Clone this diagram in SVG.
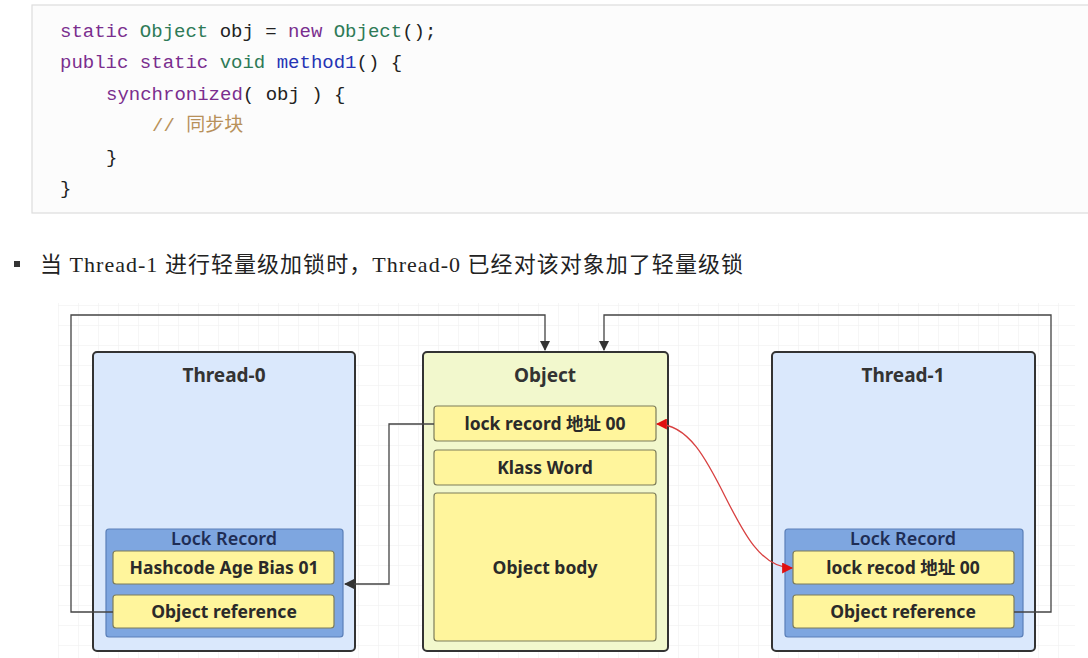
<svg xmlns="http://www.w3.org/2000/svg" width="1088" height="658" viewBox="0 0 1088 658">
<defs>
  <pattern id="grid" width="20" height="20" patternUnits="userSpaceOnUse" x="58" y="305">
    <path d="M20 0 L0 0 0 20" fill="none" stroke="#eeeeee" stroke-width="1"/>
  </pattern>
  <marker id="arrBlack" viewBox="0 0 10 10" refX="9" refY="5" markerWidth="10" markerHeight="10" markerUnits="userSpaceOnUse" orient="auto">
    <path d="M0 0 L10 5 L0 10 Z" fill="#333"/>
  </marker>
  <marker id="arrRedEnd" viewBox="0 0 10 10" refX="9" refY="5" markerWidth="11" markerHeight="11" markerUnits="userSpaceOnUse" orient="auto">
    <path d="M0 0 L10 5 L0 10 Z" fill="#e01010"/>
  </marker>
  <marker id="arrRedStart" viewBox="0 0 10 10" refX="1" refY="5" markerWidth="11" markerHeight="11" markerUnits="userSpaceOnUse" orient="auto">
    <path d="M10 0 L0 5 L10 10 Z" fill="#e01010"/>
  </marker>
</defs>
<style>
  .code { font-family: "Liberation Mono", "Noto Sans CJK SC", monospace; font-size: 19px; fill: #222; }
  .kw { fill: #7a2e8e; }
  .ty { fill: #2e7a57; }
  .fn { fill: #2633b5; }
  .cm { fill: #b8915a; }
  .title { font-family: "Noto Sans", "Noto Sans CJK SC", sans-serif; font-weight: bold; font-size: 19px; fill: #333; text-anchor: middle; }
  .cell { font-family: "Noto Sans", "Noto Sans CJK SC", sans-serif; font-weight: bold; font-size: 17.5px; fill: #2a2a2a; text-anchor: middle; }
  .lr { font-family: "Noto Sans", "Noto Sans CJK SC", sans-serif; font-weight: 600; font-size: 18px; fill: #1f2d55; text-anchor: middle; }
  .thread { fill: #dae8fc; stroke: #333; stroke-width: 2; }
  .obj { fill: #f2f8cd; stroke: #333; stroke-width: 2; }
  .lock { fill: #7ea6e0; stroke: #5a7fb8; stroke-width: 1.2; }
  .yc { fill: #fff59c; stroke: #7d7d5a; stroke-width: 1.2; }
  .conn { fill: none; stroke: #444; stroke-width: 1.3; }
</style>
<rect width="1088" height="658" fill="#ffffff"/>

<!-- code block -->
<g id="code">
  <rect x="32" y="5" width="1070" height="208" fill="#fcfcfc" stroke="#dddddd" stroke-width="1.2"/>
  <text class="code" x="60" y="37"><tspan class="kw">static</tspan> <tspan class="ty">Object</tspan> obj = <tspan class="kw">new</tspan> <tspan class="ty">Object</tspan>();</text>
  <text class="code" x="60" y="68"><tspan class="kw">public</tspan> <tspan class="kw">static</tspan> <tspan class="ty">void</tspan> <tspan class="fn">method1</tspan>() {</text>
  <text class="code" x="106" y="100"><tspan class="kw">synchronized</tspan>( obj ) {</text>
  <text class="code cm" x="152" y="131">// 同步块</text>
  <text class="code" x="106" y="163">}</text>
  <text class="code" x="60" y="194">}</text>
</g>

<!-- bullet line -->
<g id="caption">
  <rect x="14" y="261" width="6" height="6" fill="#333"/>
  <text x="40" y="272" font-family="'Liberation Serif', 'Noto Sans CJK SC', serif" font-size="22" fill="#222" textLength="703" lengthAdjust="spacing">当 Thread-1 进行轻量级加锁时，Thread-0 已经对该对象加了轻量级锁</text>
</g>

<!-- grid background -->
<rect x="58" y="303" width="1017" height="355" fill="url(#grid)"/>

<!-- Thread-0 -->
<g id="thread0">
  <rect class="thread" x="93" y="352" width="262" height="299" rx="4"/>
  <text class="title" x="224" y="382">Thread-0</text>
  <g id="lockrecord0">
    <rect class="lock" x="106" y="529" width="237" height="108" rx="3"/>
    <text class="lr" x="224" y="545">Lock Record</text>
    <rect class="yc" x="113" y="551" width="221" height="33" rx="3"/>
    <text class="cell" x="224" y="574">Hashcode Age Bias 01</text>
    <rect class="yc" x="113" y="595" width="221" height="33" rx="3"/>
    <text class="cell" x="224" y="618">Object reference</text>
  </g>
</g>

<!-- Object -->
<g id="object">
  <rect class="obj" x="423" y="352" width="245" height="299" rx="4"/>
  <text class="title" x="545" y="382">Object</text>
  <rect class="yc" x="434" y="406" width="222" height="35" rx="3"/>
  <text class="cell" x="545" y="430">lock record 地址 00</text>
  <rect class="yc" x="434" y="450" width="222" height="35" rx="3"/>
  <text class="cell" x="545" y="474">Klass Word</text>
  <rect class="yc" x="434" y="493" width="222" height="148" rx="3"/>
  <text class="cell" x="545" y="574">Object body</text>
</g>

<!-- Thread-1 -->
<g id="thread1">
  <rect class="thread" x="772" y="352" width="263" height="299" rx="4"/>
  <text class="title" x="903" y="382">Thread-1</text>
  <g id="lockrecord1">
    <rect class="lock" x="785" y="529" width="238" height="108" rx="3"/>
    <text class="lr" x="903" y="545">Lock Record</text>
    <rect class="yc" x="793" y="551" width="221" height="33" rx="3"/>
    <text class="cell" x="903" y="574">lock recod 地址 00</text>
    <rect class="yc" x="793" y="595" width="221" height="33" rx="3"/>
    <text class="cell" x="903" y="618">Object reference</text>
  </g>
</g>

<!-- connectors -->
<g id="connectors">
  <path class="conn" d="M113 612 L71 612 L71 315 L545 315 L545 350" marker-end="url(#arrBlack)"/>
  <path class="conn" d="M1014 612 L1051 612 L1051 315 L604 315 L604 350" marker-end="url(#arrBlack)"/>
  <path class="conn" d="M434 424 L389 424 L389 584 L345 584" marker-end="url(#arrBlack)"/>
  <path d="M657 424 C720 424 730 568 792 568" fill="none" stroke="#d84040" stroke-width="1.3" marker-start="url(#arrRedStart)" marker-end="url(#arrRedEnd)"/>
</g>
</svg>
